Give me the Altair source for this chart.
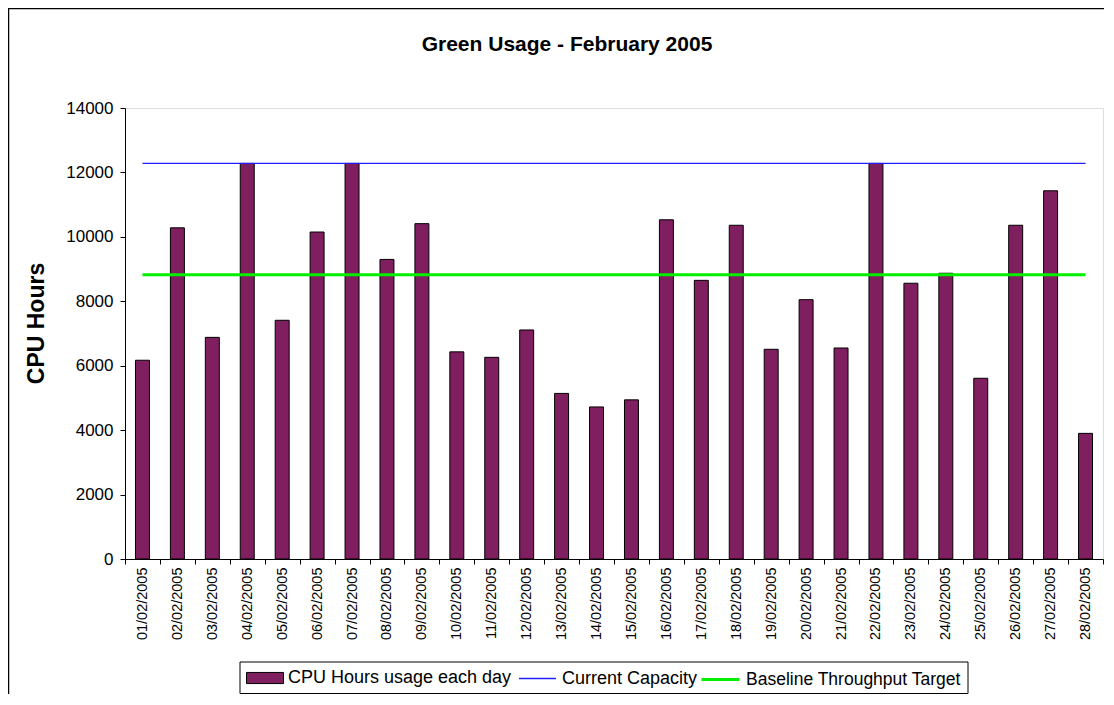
import altair as alt
import pandas as pd

DATES = [
    "01/02/2005", "02/02/2005", "03/02/2005", "04/02/2005", "05/02/2005",
    "06/02/2005", "07/02/2005", "08/02/2005", "09/02/2005", "10/02/2005",
    "11/02/2005", "12/02/2005", "13/02/2005", "14/02/2005", "15/02/2005",
    "16/02/2005", "17/02/2005", "18/02/2005", "19/02/2005", "20/02/2005",
    "21/02/2005", "22/02/2005", "23/02/2005", "24/02/2005", "25/02/2005",
    "26/02/2005", "27/02/2005", "28/02/2005",
]
CPU_HOURS = [
    6170, 10280, 6880, 12280, 7410, 10150, 12280, 9300, 10410, 6430,
    6260, 7110, 5140, 4720, 4940, 10530, 8650, 10360, 6510, 8050,
    6550, 12280, 8560, 8870, 5610, 10360, 11430, 3900,
]
CAPACITY_LEVEL = 12280
BASELINE_LEVEL = 8820
SERIES = ["CPU Hours usage each day", "Current Capacity", "Baseline Throughput Target"]
Y_TICKS = [0, 2000, 4000, 6000, 8000, 10000, 12000, 14000]

df = pd.DataFrame({
    "date": DATES,
    "cpu": CPU_HOURS,
    "cap": [CAPACITY_LEVEL] * len(DATES),
    "base": [BASELINE_LEVEL] * len(DATES),
    "s1": SERIES[0],
    "s2": SERIES[1],
    "s3": SERIES[2],
})
one = pd.DataFrame({"k": [0]})

FONT = "Liberation Sans"
LEG_Y = 551

x_enc = alt.X(
    "date:N", sort=DATES,
    scale=alt.Scale(paddingInner=0, paddingOuter=0),
    axis=alt.Axis(title=None, labelAngle=270, labelFontSize=14.5, tickBand="extent",
                  tickSize=5, labelPadding=3, domainColor="black", tickColor="black",
                  labelColor="black", labelFont=FONT),
)
y_scale = alt.Scale(domain=[0, 14000], nice=False)
y_axis = alt.Axis(values=Y_TICKS, format="d", title="CPU Hours", titleFontSize=23,
                  titleFontWeight="bold", titleAngle=270, titleX=-89, titleY=215,
                  titleAlign="center", titleBaseline="middle", titleColor="black",
                  titleFont=FONT, labelFontSize=17, labelFont=FONT, labelColor="black",
                  tickSize=5, labelPadding=7, grid=False, domainColor="black",
                  tickColor="black")

frame = alt.Chart(one).mark_rect(fill="transparent", stroke="black", strokeWidth=1.5).encode(
    x=alt.value(-116.5), x2=alt.value(1300), y=alt.value(-99.5), y2=alt.value(900))

bars = alt.Chart(df).mark_bar(width=alt.RelativeBandSize(0.4), stroke="black", strokeWidth=1).encode(
    x=x_enc,
    y=alt.Y("cpu:Q", scale=y_scale, axis=y_axis),
    fill=alt.Fill("s1:N", scale=alt.Scale(domain=[SERIES[0]], range=["#801F60"]),
                  legend=alt.Legend(title=None, orient="none", legendX=121, legendY=LEG_Y,
                                    direction="horizontal", symbolType="M-1,-0.3H1V0.3H-1Z",
                                    symbolSize=1369, symbolStrokeColor="black",
                                    symbolStrokeWidth=1, labelFontSize=18, labelFont=FONT,
                                    labelColor="black", labelOffset=4, labelLimit=400,
                                    padding=0)),
)

cap_line = alt.Chart(df).mark_line(strokeWidth=1.3).encode(
    x=alt.X("date:N", sort=DATES),
    y=alt.Y("cap:Q", scale=y_scale),
    stroke=alt.Stroke("s2:N", scale=alt.Scale(domain=[SERIES[1]], range=["#2020FF"]),
                      legend=alt.Legend(title=None, orient="none", legendX=393, legendY=LEG_Y,
                                        direction="horizontal", symbolType="stroke",
                                        symbolSize=1369, symbolStrokeWidth=1.3,
                                        symbolStrokeColor="#2020FF",
                                        labelFontSize=18, labelFont=FONT, labelColor="black",
                                        labelOffset=5, labelLimit=400, padding=0)),
)

base_line = alt.Chart(df).mark_line(strokeWidth=3).encode(
    x=alt.X("date:N", sort=DATES),
    y=alt.Y("base:Q", scale=y_scale),
    color=alt.Color("s3:N", scale=alt.Scale(domain=[SERIES[2]], range=["#00F000"]),
                    legend=alt.Legend(title=None, orient="none", legendX=575, legendY=LEG_Y,
                                      direction="horizontal", symbolType="stroke",
                                      symbolSize=1444, symbolStrokeWidth=3,
                                      symbolStrokeColor="#00F000",
                                      labelFontSize=17.5, labelFont=FONT, labelColor="black",
                                      labelOffset=5, labelLimit=400, padding=0)),
)

legend_box = alt.Chart(one).mark_rect(fill="white", stroke="black", strokeWidth=1).encode(
    x=alt.value(115), x2=alt.value(843), y=alt.value(554), y2=alt.value(585.5))

chart = alt.layer(frame, bars, cap_line, base_line, legend_box).properties(
    width=978, height=451,
    autosize=alt.AutoSizeParams(type="none"),
    padding={"left": 117, "top": 100, "right": 1, "bottom": 135},
    title=alt.TitleParams("Green Usage - February 2005", fontSize=21, fontWeight="bold",
                          anchor="middle", dx=-47, offset=-64.5, baseline="alphabetic",
                          color="black", font=FONT),
).configure_view(stroke="#808080", strokeWidth=1).configure(background="white")

chart.save("out.html", embed_options={"renderer": "svg", "actions": False})
